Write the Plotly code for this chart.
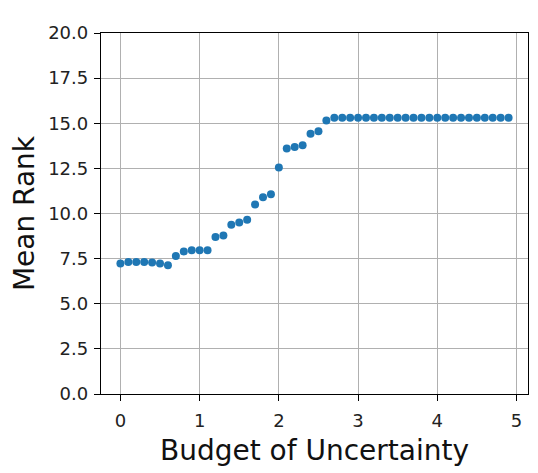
import plotly.graph_objects as go

budget = [round(0.1 * i, 1) for i in range(50)]
mean_rank = [
    7.23, 7.31, 7.31, 7.31, 7.29, 7.23, 7.13, 7.64, 7.90, 7.97,
    7.97, 7.97, 8.70, 8.78, 9.37, 9.50, 9.66, 10.50, 10.90, 11.07,
    12.55, 13.60, 13.69, 13.78, 14.42, 14.55, 15.15, 15.31, 15.31, 15.31,
    15.31, 15.31, 15.31, 15.31, 15.31, 15.31, 15.31, 15.31, 15.31, 15.31,
    15.31, 15.31, 15.31, 15.31, 15.31, 15.31, 15.31, 15.31, 15.31, 15.31,
]
x_ticks = [0, 1, 2, 3, 4, 5]
y_ticks = [0, 2.5, 5, 7.5, 10, 12.5, 15, 17.5, 20]

fig = go.Figure()
fig.add_trace(go.Scatter(
    x=budget, y=mean_rank, mode="markers",
    marker=dict(color="#1f77b4", size=8, line=dict(width=0)),
    showlegend=False,
))

axis_common = dict(
    showline=True, linecolor="black", linewidth=1.3, mirror=True,
    ticks="outside", ticklen=6, tickwidth=1.3, tickcolor="black",
    showgrid=True, gridcolor="#b0b0b0", gridwidth=1.1,
    zeroline=False,
    tickfont=dict(family="DejaVu Sans", size=18, color="#222"),
)

fig.update_layout(
    width=530, height=465,
    margin=dict(l=93, r=10, t=25, b=79),
    paper_bgcolor="white", plot_bgcolor="white",
    font=dict(family="DejaVu Sans"),
    xaxis=dict(
        range=[-0.245, 5.145], tickvals=x_ticks, ticklabelstandoff=4,
        title=dict(text="Budget of Uncertainty", font=dict(size=28, color="#111"), standoff=10),
        automargin=False, **axis_common,
    ),
    yaxis=dict(
        range=[0, 20], tickvals=y_ticks, tickformat=".1f", ticklabelstandoff=2,
        title=dict(text="Mean Rank", font=dict(size=28, color="#111"), standoff=13),
        automargin=False, **axis_common,
    ),
)

fig.write_html("out.html")
